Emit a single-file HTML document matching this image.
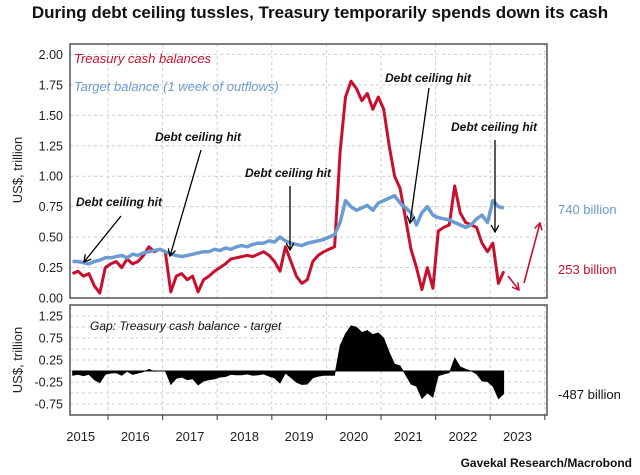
<!DOCTYPE html>
<html><head><meta charset="utf-8">
<style>
html,body{margin:0;padding:0;background:#fff;}
svg{display:block;font-family:"Liberation Sans",sans-serif;}
</style></head>
<body>
<svg id="chart" width="640" height="475" viewBox="0 0 640 475" xmlns="http://www.w3.org/2000/svg">
<text x="320" y="18" text-anchor="middle" font-size="17" font-weight="bold" fill="#111">During debt ceiling tussles, Treasury temporarily spends down its cash</text>
<g id="grid"></g>
<g id="series"></g>
<rect x="70" y="44" width="477" height="254" fill="none" stroke="#555" stroke-width="1.5"/>
<rect x="70" y="305" width="477" height="110" fill="none" stroke="#555" stroke-width="1.5"/>
<g id="axes"></g>
<text transform="translate(22,170) rotate(-90)" text-anchor="middle" font-size="13" fill="#222">US$, trillion</text>
<text transform="translate(22,360) rotate(-90)" text-anchor="middle" font-size="13" fill="#222">US$, trillion</text>
<text x="74" y="63" font-size="13" font-style="italic" fill="#c8102e">Treasury cash balances</text>
<text x="74" y="91" font-size="13" font-style="italic" fill="#6a9bd1">Target balance (1 week of outflows)</text>
<text x="90" y="330" font-size="12" font-style="italic" fill="#111">Gap: Treasury cash balance - target</text>
<text x="558" y="214" font-size="13" fill="#6a9bd1">740 billion</text>
<text x="558" y="274" font-size="13" fill="#c8102e">253 billion</text>
<text x="558" y="399" font-size="13" fill="#111">-487 billion</text>
<text x="632" y="467" text-anchor="end" font-size="12" font-weight="bold" fill="#111">Gavekal Research/Macrobond</text>
<defs>
<marker id="ab" markerWidth="8" markerHeight="8" refX="7" refY="4" orient="auto" markerUnits="userSpaceOnUse"><path d="M0,0 L7,4 L0,8" fill="none" stroke="#000" stroke-width="1.3"/></marker>
<marker id="ar" markerWidth="8" markerHeight="8" refX="7" refY="4" orient="auto" markerUnits="userSpaceOnUse"><path d="M0,0 L7,4 L0,8" fill="none" stroke="#c8102e" stroke-width="1.5"/></marker>
</defs>
<g font-size="12" font-style="italic" font-weight="bold" fill="#111">
<text x="76" y="206">Debt ceiling hit</text>
<text x="155" y="141">Debt ceiling hit</text>
<text x="245" y="177">Debt ceiling hit</text>
<text x="385" y="82">Debt ceiling hit</text>
<text x="451" y="131">Debt ceiling hit</text>
</g>
<g stroke="#000" stroke-width="1.3" fill="none">
<line x1="121" y1="216" x2="84" y2="262" marker-end="url(#ab)"/>
<line x1="201" y1="150" x2="170" y2="256" marker-end="url(#ab)"/>
<line x1="290" y1="186" x2="290" y2="250" marker-end="url(#ab)"/>
<line x1="429" y1="88" x2="410" y2="223" marker-end="url(#ab)"/>
<line x1="495" y1="140" x2="495" y2="232" marker-end="url(#ab)"/>
</g>
<g stroke="#c8102e" stroke-width="1.6" fill="none">
<line x1="508" y1="276" x2="519" y2="290" marker-end="url(#ar)"/>
<line x1="524" y1="283" x2="540" y2="223" marker-end="url(#ar)"/>
</g>
</svg>
<script>
const dates = [];
for (let i = 0; i < 80; i++) dates.push(2015.35 + i * 0.1);
const cashValues = [
.20,.22,.18,.20,.10,.04,.25,
.28,.30,.25,.32,.28,.30,.35,.42,.38,.40,
.38,.05,.18,.20,.15,.18,.05,.15,.18,.22,
.25,.28,.32,.33,.34,.35,.34,.36,.38,.35,
.30,.22,.42,.30,.18,.12,.15,.30,.35,.38,
.40,.42,1.2,1.65,1.78,1.72,1.62,1.68,1.55,1.65,
1.55,1.25,1.0,.9,.65,.40,.25,.07,.25,.08,
.55,.58,.60,.92,.70,.62,.60,.58,.45,.38,
.45,.12,.22];
const targetValues = [
.30,.30,.29,.28,.30,.31,.33,
.33,.34,.35,.33,.36,.35,.37,.38,.39,.40,
.38,.36,.35,.34,.35,.36,.37,.38,.38,.40,
.39,.41,.40,.42,.43,.42,.44,.45,.45,.47,
.46,.50,.47,.45,.44,.43,.45,.46,.47,.48,
.50,.52,.62,.80,.75,.72,.74,.76,.72,.78,
.80,.82,.84,.78,.74,.70,.60,.70,.75,.68,
.66,.65,.64,.62,.60,.58,.60,.65,.68,.62,
.80,.75,.74];
const yearLabels = ["2015","2016","2017","2018","2019","2020","2021","2022","2023"];
const topTicks = ["0.00","0.25","0.50","0.75","1.00","1.25","1.50","1.75","2.00"];
const bottomTicks = ["1.25","0.75","0.25","-0.25","-0.75"];

const NS = "http://www.w3.org/2000/svg";
const xs = t => 53.4 + (t - 2015) * 54.6;
const yTop = v => 298 - v * 121.8;
const yBot = v => 371 - v * 44;
function mk(tag, attrs, parent) {
  const e = document.createElementNS(NS, tag);
  for (const k in attrs) e.setAttribute(k, attrs[k]);
  document.getElementById(parent).appendChild(e);
  return e;
}
for (let i = 0; i <= 8; i++) {
  const y = yTop(i * 0.25);
  const g = mk("line", {x1:70, x2:547, y1:y, y2:y, stroke:"#ccc", "stroke-dasharray":"3,3"}, "grid");
  
  
  const t = mk("text", {x:63, y:y+4.5, "text-anchor":"end", "font-size":"12.5", fill:"#222"}, "axes");
  t.textContent = topTicks[i];
  
  
}
for (let v = -1; v <= 1.5; v += 0.25) {
  const y = yBot(v);
  if (y <= 306 || y >= 414) continue;
  const g = mk("line", {x1:70, x2:547, y1:y, y2:y, stroke:"#ccc", "stroke-dasharray":"3,3"}, "grid");
  
  
}
bottomTicks.forEach(s => {
  const y = yBot(parseFloat(s));
  const t = mk("text", {x:63, y:y+4.5, "text-anchor":"end", "font-size":"12.5", fill:"#222"}, "axes");
  t.textContent = s;
  
  
});
for (let yr = 2016; yr <= 2024; yr++) {
  const x = xs(yr);
  [[44,298],[305,415]].forEach(r => {
    const g = mk("line", {x1:x, x2:x, y1:r[0], y2:r[1], stroke:"#ccc", "stroke-dasharray":"3,3"}, "grid");
    
    
  });
  const tk = mk("line", {x1:x, x2:x, y1:415, y2:420, stroke:"#555", "stroke-width":1.2}, "axes");
  
  
}
yearLabels.forEach(s => {
  const t = mk("text", {x:xs(parseInt(s) + 0.5), y:441, "text-anchor":"middle", "font-size":"13", fill:"#222"}, "axes");
  t.textContent = s;
  
  
});
const path = (vals, f) => vals.map((v, i) => (i ? "L" : "M") + xs(dates[i]).toFixed(1) + "," + f(v).toFixed(1)).join("");
const gapValues = cashValues.map((v, i) => v - targetValues[i]);
let area = "M" + xs(dates[0]).toFixed(1) + "," + yBot(0);
gapValues.forEach((v, i) => { area += "L" + xs(dates[i]).toFixed(1) + "," + yBot(v).toFixed(1); });
area += "L" + xs(dates[dates.length - 1]).toFixed(1) + "," + yBot(0) + "Z";
const ga = mk("path", {d:area, fill:"#000", stroke:"#000", "stroke-width":0.6}, "series");


const zl = mk("line", {x1:xs(dates[0]), x2:xs(dates[dates.length-1]), y1:yBot(0), y2:yBot(0), stroke:"#000", "stroke-width":1}, "series");


const red = mk("path", {d:path(cashValues, yTop), fill:"none", stroke:"#c8102e", "stroke-width":3, "stroke-linejoin":"round"}, "series");


const blue = mk("path", {d:path(targetValues, yTop), fill:"none", stroke:"#6a9bd1", "stroke-width":3.5, "stroke-linejoin":"round"}, "series");


</script>
</body></html>
